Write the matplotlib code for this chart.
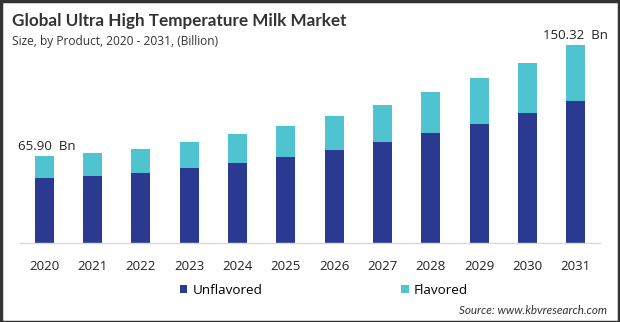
import matplotlib.pyplot as plt
from matplotlib.patches import Rectangle

years = ["2020", "2021", "2022", "2023", "2024", "2025",
         "2026", "2027", "2028", "2029", "2030", "2031"]
unflavored = [49.3, 50.9, 53.1, 56.9, 60.7, 65.3, 70.6, 76.7, 83.5, 90.3, 98.7, 107.8]
totals = [65.90, 68.3, 71.3, 76.7, 82.7, 88.8, 96.4, 104.7, 114.6, 125.2, 136.6, 150.32]
flavored = [t - u for t, u in zip(totals, unflavored)]

dark = "#2b3990"
light = "#4fc3cf"
plt.rcParams['font.family'] = ['Open Sans', 'DejaVu Sans']

W, H = 620, 322
fig = plt.figure(figsize=(W / 100, H / 100), dpi=100)
fig.patch.set_facecolor("white")

# axes placed in pixel terms: x 20..600, baseline at y=243
ax = fig.add_axes([20 / W, (H - 243) / H, 580 / W, 213 / H])
x = range(len(years))
ax.bar(x, unflavored, width=0.39, color=dark, label="Unflavored")
ax.bar(x, flavored, width=0.39, bottom=unflavored, color=light, label="Flavored")
ax.set_xlim(-0.5, len(years) - 0.5)
ax.set_ylim(0, 161.7)
for s in ["top", "right", "left"]:
    ax.spines[s].set_visible(False)
ax.spines["bottom"].set_color("#d9d9d9")
ax.spines["bottom"].set_linewidth(1.0)
ax.set_yticks([])
ax.set_xticks(list(x))
ax.set_xticklabels(years, fontsize=9.5, color="#222222")
ax.tick_params(axis="x", length=0, pad=12)

ax.annotate(f"{totals[0]:.2f}  Bn", (0, totals[0]), xytext=(2, 2), textcoords="offset points",
            ha="center", va="bottom", fontsize=9.5, color="#222222")
ax.annotate(f"{totals[-1]:.2f}  Bn", (11, totals[-1]), xytext=(0, 2), textcoords="offset points",
            ha="center", va="bottom", fontsize=9.5, color="#222222")

fig.text(12 / W, 1 - 21 / H, "Global Ultra High Temperature Milk Market", fontsize=12.3,
         fontweight="bold", family=["Lato", "DejaVu Sans"], color="#333333", va="center", ha="left")
fig.text(12 / W, 1 - 41 / H, "Size, by Product, 2020 - 2031, (Billion)", fontsize=8.6,
         color="#333333", va="center", ha="left")

handles, labels = ax.get_legend_handles_labels()
fig.legend(handles, labels, loc="center", bbox_to_anchor=(324 / W, 1 - 290 / H), ncol=2,
           frameon=False, fontsize=9.7, handlelength=0.55, handleheight=0.55,
           handletextpad=0.4, columnspacing=10.3)

fig.text(607 / W, 1 - 310 / H, "Source: www.kbvresearch.com", fontsize=8.4, style="italic",
         family=["Lato", "DejaVu Sans"], color="#333333", ha="right", va="center")

fig.patches.append(Rectangle((0.5 / W, 0.5 / H), 1 - 1.5 / W, 1 - 1.5 / H, transform=fig.transFigure,
                             fill=False, edgecolor="#333333", linewidth=2.5))

fig.savefig("out.png", dpi=100)
